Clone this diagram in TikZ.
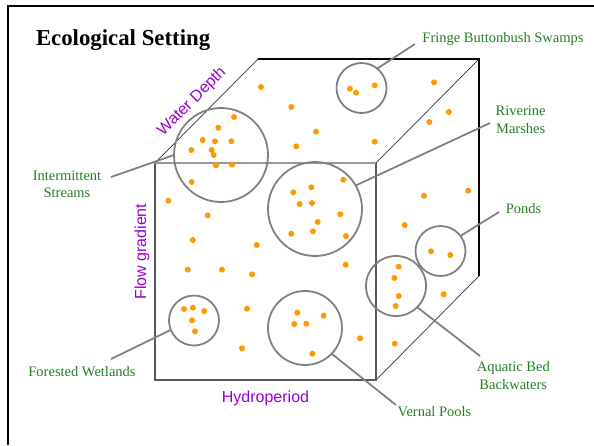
\documentclass[tikz,border=0pt]{standalone}
\usepackage{fontspec}
\setmainfont{Liberation Serif}
\newfontfamily\axisfont{Liberation Sans}
\definecolor{poolgray}{HTML}{808080}
\definecolor{labgreen}{HTML}{267F26}
\definecolor{axispurple}{HTML}{9900CC}
\definecolor{dotorange}{HTML}{FF9900}
\begin{document}
\begin{tikzpicture}[x=1pt,y=-1pt,
  every node/.style={inner sep=0pt, outer sep=0pt},
  pool/.style={circle, draw=poolgray, line width=1.8pt, minimum size=#1},
  leader/.style={draw=poolgray, line width=1.8pt},
  lab/.style={text=labgreen, font=\fontsize{14.5}{17.6}\selectfont, align=center, anchor=base},
  axislab/.style={text=axispurple, font=\axisfont\fontsize{16}{19}\selectfont, anchor=base},
  frontedge/.style={draw=black!65, line width=1.1pt},
  backedge/.style={draw=black, line width=1.2pt},
  depthedge/.style={draw=black!80, line width=0.7pt}]
\useasboundingbox (0,0) rectangle (594,445);

% outer frame (left and top sides)
\draw[line width=2.2pt] (8,445) -- (8,6) -- (594,6);

% title
\node[anchor=base west, font=\fontsize{22.8}{27}\selectfont\bfseries] (title) at (36,45) {Ecological Setting};

% cube corners
\coordinate (F1) at (155,163);
\coordinate (F2) at (376,163);
\coordinate (F3) at (376,380);
\coordinate (F4) at (155,380);
\coordinate (B1) at (258,59);
\coordinate (B2) at (479,59);
\coordinate (B3) at (479,276);

% cube
\draw[backedge] (B1) -- (B2) -- (B3);
\draw[depthedge] (F1) -- (B1);
\draw[depthedge] (F2) -- (B2);
\draw[depthedge] (F3) -- (B3);
\draw[frontedge] (F1) -- (F4) -- (F3) -- (F2);
\draw[draw=black!40, line width=1.8pt] (F1) -- (F2);

% axis labels
\node[axislab, rotate=45] (depth) at (195,104.5) {Water Depth};
\node[axislab, rotate=90] (flow) at (146,251.7) {Flow gradient};
\node[axislab] (hydro) at (265.5,402.5) {Hydroperiod};

% wetland classes
\node[pool=94pt] (c1) at (221,155) {};
\node[pool=50pt] (c2) at (361.5,88) {};
\node[pool=94pt] (c3) at (315,209) {};
\node[pool=50pt] (c4) at (440.5,251) {};
\node[pool=60pt] (c5) at (396,286) {};
\node[pool=74pt] (c6) at (305,328) {};
\node[pool=50pt] (c7) at (194,320.5) {};

% sample points
\foreach \px/\py in {
  261/87, 234/117, 218.3/127.7, 202.7/140, 215/141.3, 231.3/141.3,
  191.3/150, 211.7/150, 213.7/155, 216/165.3, 232/164.7, 191.7/182,
  168.3/200.7, 207.7/215.3, 291.3/107, 316/131.7, 296.3/146.3,
  374.7/141.7, 350/88.7, 356/92.7, 374.7/85.3, 343.3/179.7,
  311.3/187.3, 293.3/192.3, 299.7/204, 312/203, 340.3/214.3,
  317.7/222, 434/82.3, 448.7/112, 429.3/122, 424/195.7, 468.3/190.7,
  192.7/240, 256.7/245, 187.7/269.7, 222/269.7, 252/274.3,
  184/309, 193/307.7, 204.3/311, 192/320.3, 195/331.3, 247/308.7,
  242/348.3, 291.3/233.7, 313/231.3, 346/236, 345.7/264.7,
  297.3/312.7, 323.7/315.7, 294.3/324, 306.3/323.7, 312.3/353.7,
  360/338.3, 404.7/225, 431/251.3, 450.3/255, 398.7/266.7,
  394.3/278, 398.7/296, 395.7/306, 443.7/294.3, 394.7/343.7}
  \fill[dotorange] (\px,\py) circle[radius=3pt];

% labels (two-line labels are placed by the baseline of their last line)
\node[lab] (lint) at (67,197.6) {Intermittent\\Streams};
\node[lab] (lfringe) at (503,42) {Fringe Buttonbush Swamps};
\node[lab] (lriver) at (520.7,133.3) {Riverine\\Marshes};
\node[lab] (lponds) at (523.5,213.3) {Ponds};
\node[lab] (laquatic) at (513.3,389.3) {Aquatic Bed\\Backwaters};
\node[lab] (lvernal) at (434.5,416) {Vernal Pools};
\node[lab] (lforest) at (82,376.7) {Forested Wetlands};

% leader line ends next to the labels
\coordinate (tint) at (111,177);
\coordinate (tfringe) at (415,44);
\coordinate (triver) at (490,123);
\coordinate (tponds) at (499,212);
\coordinate (taquatic) at (480,356);
\coordinate (tvernal) at (396,405);
\coordinate (tforest) at (111,359);

\draw[leader] (tint) -- (c1.180);
\draw[leader] (tfringe) -- (c2.51);
\draw[leader] (triver) -- (c3.30);
\draw[leader] (tponds) -- (c4.37);
\draw[leader] (taquatic) -- (c5.-45);
\draw[leader] (tvernal) -- (c6.-44.5);
\draw[leader] (tforest) -- (c7.202);
\end{tikzpicture}
\end{document}
